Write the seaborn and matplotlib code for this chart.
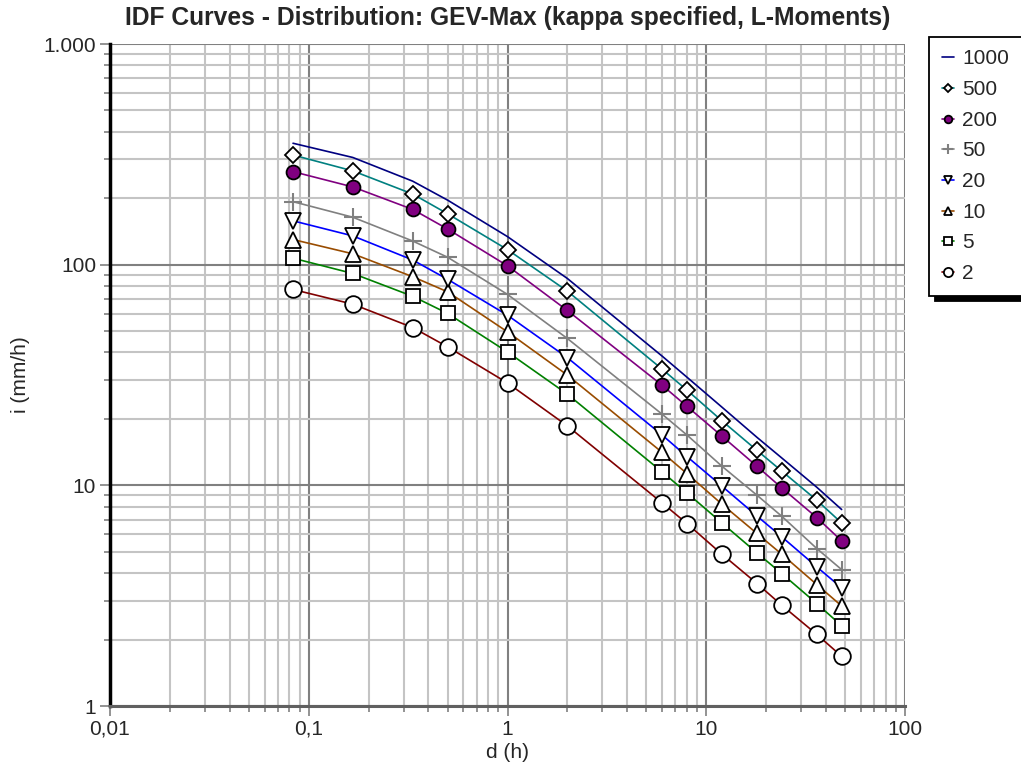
import matplotlib
matplotlib.use("Agg")
import matplotlib.pyplot as plt
import seaborn as sns
import pandas as pd
from matplotlib.ticker import FixedLocator, FixedFormatter, LogLocator, NullFormatter

# ---- data -------------------------------------------------------------
durations_h = [5/60, 10/60, 20/60, 0.5, 1, 2, 6, 8, 12, 18, 24, 36, 48]

i_1000 = [355, 306, 239, 196, 134, 86.6, 38.5, 30.9, 22.6, 16.5, 13.3, 9.8, 7.77]
i_500 = [314, 266, 209, 170, 117, 75.9, 33.6, 27.0, 19.6, 14.4, 11.6, 8.56, 6.75]
i_200 = [264, 225, 178, 145, 98.8, 62.0, 28.4, 22.8, 16.7, 12.2, 9.73, 7.14, 5.60]
i_50 = [193, 164, 128, 108, 73.3, 46.3, 21.0, 16.9, 12.2, 9.02, 7.24, 5.17, 4.15]
i_20 = [158, 135, 105, 85.8, 59.0, 37.9, 16.9, 13.5, 9.91, 7.26, 5.84, 4.27, 3.43]
i_10 = [130, 112, 88.2, 75.3, 49.6, 31.6, 14.1, 11.3, 8.21, 6.05, 4.87, 3.55, 2.84]
i_5 = [107, 91.2, 71.9, 60.1, 40.2, 25.9, 11.5, 9.24, 6.75, 4.94, 3.98, 2.91, 2.31]
i_2 = [77.2, 66.2, 51.9, 42.4, 29.1, 18.6, 8.32, 6.71, 4.87, 3.59, 2.86, 2.11, 1.68]

return_periods = ["1000", "500", "200", "50", "20", "10", "5", "2"]
series = [i_1000, i_500, i_200, i_50, i_20, i_10, i_5, i_2]

x_ticks = [0.01, 0.1, 1, 10, 100]
x_ticklabels = ["0,01", "0,1", "1", "10", "100"]
y_ticks = [1, 10, 100, 1000]
y_ticklabels = ["1", "10", "100", "1.000"]

title = "IDF Curves - Distribution: GEV-Max (kappa specified, L-Moments)"

# ---- styles -----------------------------------------------------------
styles = {
    "1000": dict(color="#000080"),
    "500": dict(color="#008080", marker="D", markersize=8, markerfacecolor="white", markeredgecolor="black", markeredgewidth=1.3),
    "200": dict(color="#800080", marker="o", markersize=10, markerfacecolor="#800080", markeredgecolor="black", markeredgewidth=1.3),
    "50": dict(color="#808080", marker="+", markersize=13, markerfacecolor="#808080", markeredgecolor="#808080", markeredgewidth=1.5),
    "20": dict(color="#0000ff", marker="v", markersize=11, markerfacecolor="white", markeredgecolor="black", markeredgewidth=1.3),
    "10": dict(color="#994c00", marker="^", markersize=11, markerfacecolor="white", markeredgecolor="black", markeredgewidth=1.3),
    "5": dict(color="#008000", marker="s", markersize=10, markerfacecolor="white", markeredgecolor="black", markeredgewidth=1.3),
    "2": dict(color="#800000", marker="o", markersize=12, markerfacecolor="white", markeredgecolor="black", markeredgewidth=1.3),
}

sns.set_theme(style="white")
plt.rcParams["font.family"] = ["Liberation Sans", "DejaVu Sans"]

fig = plt.figure(figsize=(10.21, 7.78), dpi=100)
ax = fig.add_axes([110/1021, 1 - 706/778, (905-110)/1021, (706-44)/778])

rows = []
for rp, vals in zip(return_periods, series):
    for d, v in zip(durations_h, vals):
        rows.append({"d": d, "i": v, "T": rp})
df = pd.DataFrame(rows)

for k, rp in enumerate(return_periods):
    sub = df[df["T"] == rp]
    st = styles[rp]
    sns.lineplot(data=sub, x="d", y="i", ax=ax, linewidth=1.2, label=rp,
                 zorder=3 + (len(return_periods) - k) * 0.01, **st)

ax.set_xscale("log")
ax.set_yscale("log")
ax.set_xlim(0.01, 100)
ax.set_ylim(1, 1000)

ax.xaxis.set_major_locator(FixedLocator(x_ticks))
ax.xaxis.set_major_formatter(FixedFormatter(x_ticklabels))
ax.yaxis.set_major_locator(FixedLocator(y_ticks))
ax.yaxis.set_major_formatter(FixedFormatter(y_ticklabels))
ax.xaxis.set_minor_locator(LogLocator(base=10, subs=range(2, 10)))
ax.yaxis.set_minor_locator(LogLocator(base=10, subs=range(2, 10)))
ax.xaxis.set_minor_formatter(NullFormatter())
ax.yaxis.set_minor_formatter(NullFormatter())

ax.grid(which="minor", color="#c4c4c4", linewidth=1.5, zorder=0)
ax.grid(which="major", color="#808080", linewidth=1.5, zorder=0)
ax.set_axisbelow(True)

ax.tick_params(which="major", direction="out", length=7, width=1.2, color="#808080",
               labelsize=15, pad=3, left=True, bottom=True)
ax.tick_params(which="minor", direction="out", length=4.5, width=1.2, color="#808080",
               left=True, bottom=True)

for s in ["top", "right"]:
    ax.spines[s].set_visible(False)
ax.spines["left"].set_color("black")
ax.spines["left"].set_linewidth(2.5)
ax.spines["bottom"].set_color("#606060")
ax.spines["bottom"].set_linewidth(2.2)

ax.set_xlabel("d (h)", fontsize=15, labelpad=3)
ax.set_ylabel("i (mm/h)", fontsize=15, labelpad=10)
ax.set_title(title, fontsize=17.7, fontweight="bold", pad=14)

h, l = ax.get_legend_handles_labels()
leg = ax.legend(h, l, loc="upper left", bbox_to_anchor=(929/1021, 1 - 37/778),
                bbox_transform=fig.transFigure, borderaxespad=0, frameon=True,
                fancybox=False, fontsize=15, handlelength=0.6, handletextpad=0.4,
                markerscale=0.55, labelspacing=0.56, borderpad=0.6,
                shadow={"ox": 4, "oy": -4, "facecolor": "black", "edgecolor": "black", "alpha": 1})
leg.get_frame().set_edgecolor("black")
leg.get_frame().set_linewidth(1.3)

fig.savefig("out.png", dpi=100)
